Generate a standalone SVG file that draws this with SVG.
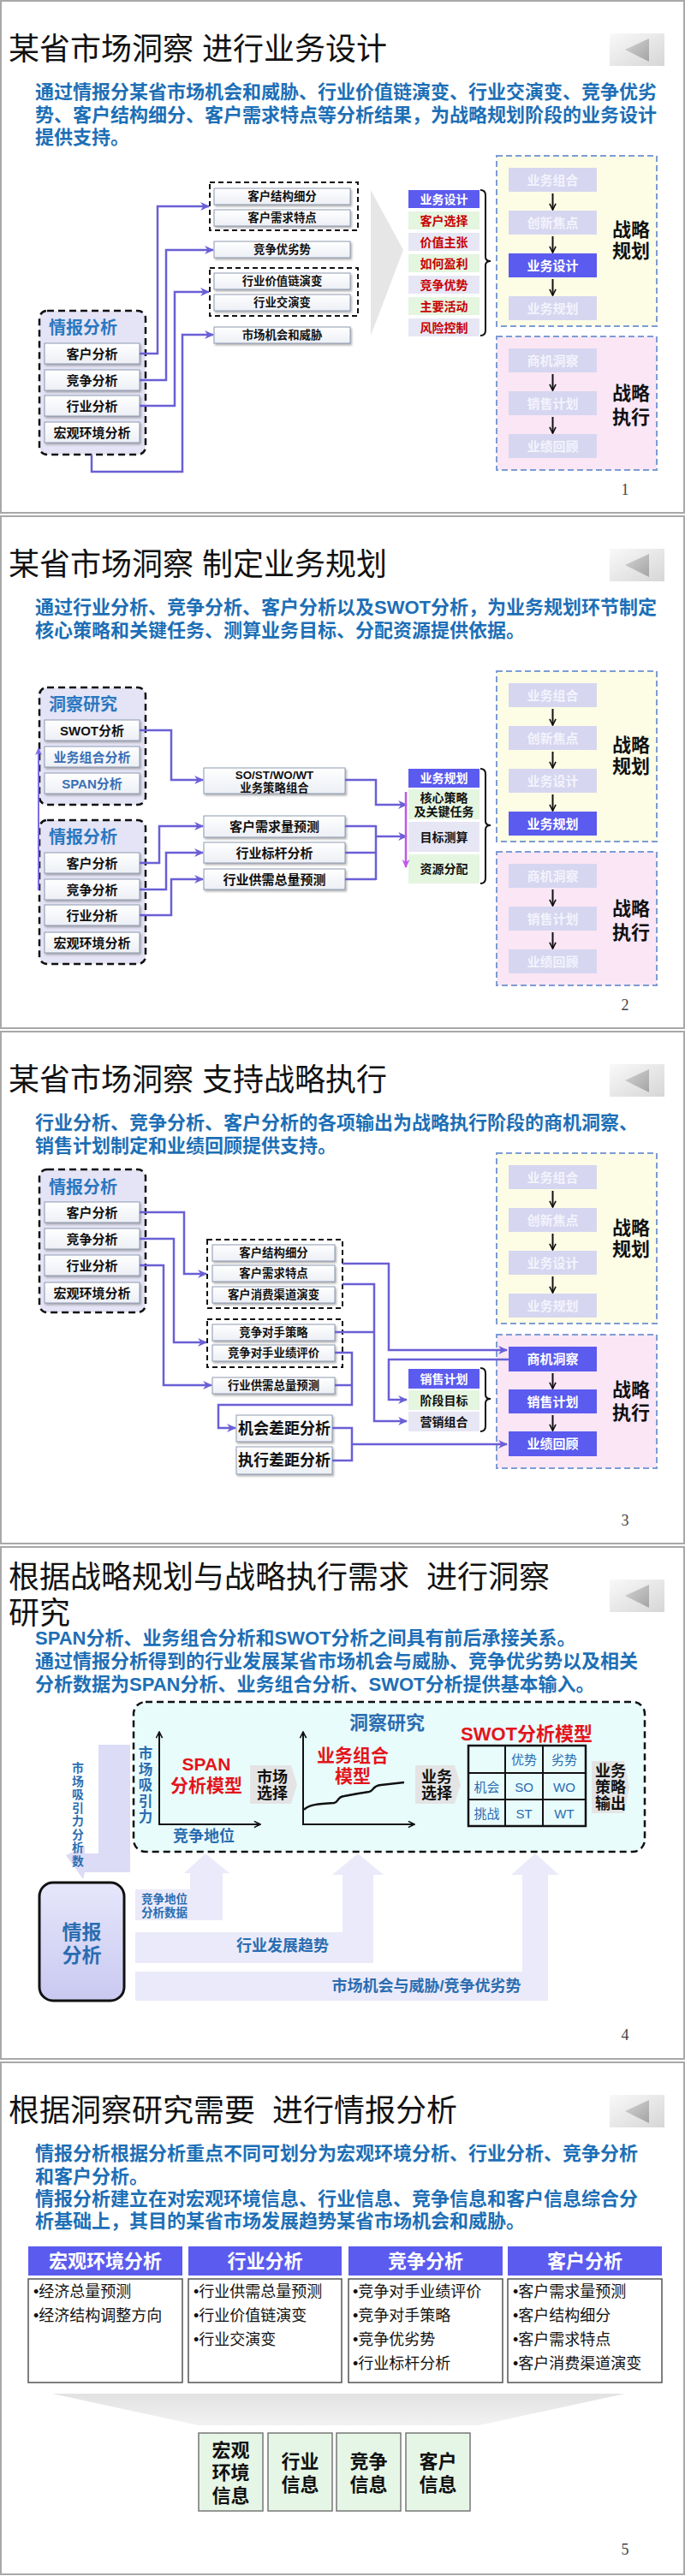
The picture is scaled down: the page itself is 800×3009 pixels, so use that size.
<svg xmlns="http://www.w3.org/2000/svg" xmlns:xlink="http://www.w3.org/1999/xlink" width="800" height="3009" viewBox="0 0 800 3009">
<style>
text{font-family:"Liberation Sans","Noto Sans CJK SC",sans-serif;dominant-baseline:central}
.frame{fill:#fff;stroke:#a8a8a8;stroke-width:2}
.ttl{font-size:36px;fill:#111}
.sub{font-size:22px;font-weight:700;fill:#1d6fb6}
.pg{font-family:"Liberation Serif",serif;font-size:18px;fill:#444;text-anchor:middle}
.cont{fill:#e4e4f6;stroke:#111;stroke-width:2.5;stroke-dasharray:8 5}
.grp{fill:none;stroke:#111;stroke-width:2;stroke-dasharray:6 4}
.ct{font-size:20px;font-weight:700;fill:#2a78c0}
.bx{fill:url(#gb);stroke:#8e9ab0;stroke-width:1;filter:url(#sh)}
.bt{font-size:15px;font-weight:700;fill:#111;text-anchor:middle}
.bb{font-size:15px;font-weight:700;fill:#3a6fb5;text-anchor:middle}
.st{font-size:13.4px;font-weight:700;fill:#111;text-anchor:middle}
.sl{font-size:18px;font-weight:700;fill:#111;text-anchor:middle}
.ca{fill:none;stroke:#6a5fd6;stroke-width:2.5;marker-end:url(#ap)}
.cn{fill:none;stroke:#6a5fd6;stroke-width:2.5}
.pp{fill:#fdfde6;stroke:#7d9cd4;stroke-width:2;stroke-dasharray:7 4}
.pe{fill:#fbe6f5;stroke:#7d9cd4;stroke-width:2;stroke-dasharray:7 4}
.fb{fill:#d6d6f0}
.ab{fill:#5b5bef}
.ft{font-size:15px;font-weight:700;fill:#f3f3fc;text-anchor:middle}
.at{font-size:15px;font-weight:700;fill:#fff;text-anchor:middle}
.zl{font-size:22px;font-weight:700;fill:#111;text-anchor:middle}
.ka{stroke:#111;stroke-width:2;fill:none;marker-end:url(#ak)}
.lh{fill:#5b5bef}
.lg{fill:#e4f5e0}
.ll{fill:#e6e6f4}
.lr{font-size:14px;font-weight:700;fill:#c80000;text-anchor:middle}
.lw{font-size:14px;font-weight:700;fill:#fff;text-anchor:middle}
.lk{font-size:14px;font-weight:700;fill:#111;text-anchor:middle}
.brace{fill:none;stroke:#111;stroke-width:2}
.bl{font-weight:700;fill:#2a6db0;text-anchor:middle}
.rd{font-weight:700;fill:#e3141b;text-anchor:middle}
.pent{fill:#e4e4e4}
.band{fill:#eaeafa}
.th{fill:#5b5bef}
.tht{font-size:22px;font-weight:700;fill:#fff;text-anchor:middle}
.tb{fill:#fff;stroke:#555;stroke-width:1.5}
.li{font-size:18px;fill:#111}
.ib{fill:#e6f6e6;stroke:#777;stroke-width:1.5}
.it{font-size:22px;font-weight:700;fill:#111;text-anchor:middle}
</style>
<defs>
<linearGradient id="gb" x1="0" y1="0" x2="0" y2="1"><stop offset="0" stop-color="#ffffff"/><stop offset="1" stop-color="#eceff5"/></linearGradient>
<linearGradient id="gback" x1="0" y1="0" x2="1" y2="1"><stop offset="0" stop-color="#f9f9f9"/><stop offset="1" stop-color="#d6d6d6"/></linearGradient>
<linearGradient id="gtri" x1="0" y1="0" x2="1" y2="1"><stop offset="0" stop-color="#d4d4d4"/><stop offset="1" stop-color="#a4a4a4"/></linearGradient>
<linearGradient id="gq" x1="0" y1="0" x2="0" y2="1"><stop offset="0" stop-color="#e6e6fb"/><stop offset="1" stop-color="#c9c9f1"/></linearGradient>
<linearGradient id="gf" x1="0" y1="0" x2="0" y2="1"><stop offset="0" stop-color="#e2e2e2"/><stop offset="1" stop-color="#f2f2f2"/></linearGradient>
<filter id="sh" x="-10%" y="-20%" width="130%" height="160%"><feDropShadow dx="1.5" dy="2" stdDeviation="1" flood-color="#777" flood-opacity="0.55"/></filter>
<marker id="ap" viewBox="0 0 10 10" refX="9" refY="5" markerWidth="11" markerHeight="11" markerUnits="userSpaceOnUse" orient="auto"><path d="M0,0.5 L10,5 L0,9.5 L3,5 z" fill="#6a5fd6"/></marker>
<marker id="ap2" viewBox="0 0 10 10" refX="9" refY="5" markerWidth="9" markerHeight="9" markerUnits="userSpaceOnUse" orient="auto"><path d="M0,0.5 L10,5 L0,9.5 L3,5 z" fill="#7b6ee0"/></marker>
<marker id="am" viewBox="0 0 10 10" refX="9" refY="5" markerWidth="10" markerHeight="10" markerUnits="userSpaceOnUse" orient="auto"><path d="M0,0.5 L10,5 L0,9.5 L3,5 z" fill="#c058e8"/></marker>
<marker id="ak" viewBox="0 0 10 10" refX="9" refY="5" markerWidth="9" markerHeight="9" markerUnits="userSpaceOnUse" orient="auto"><path d="M1,1 L9,5 L1,9" fill="none" stroke="#111" stroke-width="1.8"/></marker>
<g id="backbtn"><rect x="712" y="0" width="64" height="38" fill="url(#gback)"/><polygon points="730,19 758,6 758,33" fill="url(#gtri)"/></g>
</defs>

<g id="frames">
<rect class="frame" x="1" y="1" width="798" height="598"/>
<rect class="frame" x="1" y="603" width="798" height="598"/>
<rect class="frame" x="1" y="1205" width="798" height="598"/>
<rect class="frame" x="1" y="1807" width="798" height="598"/>
<rect class="frame" x="1" y="2409" width="798" height="598"/>
</g>

<!-- ================= SLIDE 1 ================= -->
<g id="slide1">
<text class="ttl" x="10" y="57">某省市场洞察 进行业务设计</text>
<use href="#backbtn" y="39"/>
<text class="sub"><tspan x="41" y="107">通过情报分某省市场机会和威胁、行业价值链演变、行业交演变、竞争优劣</tspan><tspan x="41" y="134">势、客户结构细分、客户需求特点等分析结果，为战略规划阶段的业务设计</tspan><tspan x="41" y="160">提供支持。</tspan></text>

<g id="s1-qbfx"><rect class="cont" x="46" y="363" width="124" height="168" rx="9"/><text class="ct" x="57" y="383">情报分析</text></g>
<g id="s1-khfx"><rect class="bx" x="52" y="401" width="111" height="24"/><text class="bt" x="107.5" y="413">客户分析</text></g>
<g id="s1-jzfx"><rect class="bx" x="52" y="432" width="111" height="24"/><text class="bt" x="107.5" y="444">竞争分析</text></g>
<g id="s1-hyfx"><rect class="bx" x="52" y="462" width="111" height="24"/><text class="bt" x="107.5" y="474">行业分析</text></g>
<g id="s1-hgfx"><rect class="bx" x="52" y="493" width="111" height="24"/><text class="bt" x="107.5" y="505">宏观环境分析</text></g>

<g id="s1-grp1"><rect class="grp" x="245" y="213" width="173" height="56"/></g>
<g id="s1-khjg"><rect class="bx" x="250" y="220" width="159" height="19"/><text class="st" x="329.5" y="229.5">客户结构细分</text></g>
<g id="s1-khxq"><rect class="bx" x="250" y="245" width="159" height="19"/><text class="st" x="329.5" y="254.5">客户需求特点</text></g>
<g id="s1-jzyl"><rect class="bx" x="250" y="282" width="159" height="19"/><text class="st" x="329.5" y="291.5">竞争优劣势</text></g>
<g id="s1-grp2"><rect class="grp" x="245" y="313" width="173" height="56"/></g>
<g id="s1-hyjz"><rect class="bx" x="250" y="319" width="159" height="19"/><text class="st" x="329.5" y="328.5">行业价值链演变</text></g>
<g id="s1-hyjy"><rect class="bx" x="250" y="344" width="159" height="19"/><text class="st" x="329.5" y="353.5">行业交演变</text></g>
<g id="s1-scjh"><rect class="bx" x="250" y="382" width="159" height="19"/><text class="st" x="329.5" y="391.5">市场机会和威胁</text></g>

<polygon points="433,222 471,292 433,392" fill="#e6e6e6"/>

<g id="s1-labels">
<rect class="lh" x="477" y="222" width="83" height="21"/><text class="lw" x="518.5" y="232.5">业务设计</text>
<rect class="lg" x="477" y="247" width="83" height="21"/><text class="lr" x="518.5" y="257.5">客户选择</text>
<rect class="ll" x="477" y="272" width="83" height="21"/><text class="lr" x="518.5" y="282.5">价值主张</text>
<rect class="lg" x="477" y="297" width="83" height="21"/><text class="lr" x="518.5" y="307.5">如何盈利</text>
<rect class="ll" x="477" y="322" width="83" height="21"/><text class="lr" x="518.5" y="332.5">竞争优势</text>
<rect class="lg" x="477" y="347" width="83" height="21"/><text class="lr" x="518.5" y="357.5">主要活动</text>
<rect class="ll" x="477" y="372" width="83" height="21"/><text class="lr" x="518.5" y="382.5">风险控制</text>
<path class="brace" d="M561,222 Q567,222 567,228 V300 Q567,305 573,305 Q567,305 567,310 V386 Q567,392 561,392"/>
</g>

<g id="s1-plan">
<rect class="pp" x="580" y="182" width="187" height="199"/>
<g id="s1-ywzh"><rect class="fb" x="594" y="196" width="103" height="28"/><text class="ft" x="645.5" y="210">业务组合</text></g>
<g id="s1-cxjd"><rect class="fb" x="594" y="246" width="103" height="28"/><text class="ft" x="645.5" y="260">创新焦点</text></g>
<g id="s1-ywsj"><rect class="ab" x="594" y="296" width="103" height="28"/><text class="at" x="645.5" y="310">业务设计</text></g>
<g id="s1-ywgh"><rect class="fb" x="594" y="346" width="103" height="28"/><text class="ft" x="645.5" y="360">业务规划</text></g>
<text class="zl"><tspan x="737" y="268">战略</tspan><tspan x="737" y="293">规划</tspan></text>
</g>
<g id="s1-exec">
<rect class="pe" x="580" y="393" width="187" height="156"/>
<g id="s1-sjdc"><rect class="fb" x="594" y="407" width="103" height="28"/><text class="ft" x="645.5" y="421">商机洞察</text></g>
<g id="s1-xsjh"><rect class="fb" x="594" y="457" width="103" height="28"/><text class="ft" x="645.5" y="471">销售计划</text></g>
<g id="s1-yjhg"><rect class="fb" x="594" y="507" width="103" height="28"/><text class="ft" x="645.5" y="521">业绩回顾</text></g>
<text class="zl"><tspan x="737" y="459">战略</tspan><tspan x="737" y="487">执行</tspan></text>
</g>

<g id="s1-connectors">
<path class="ca" d="M163,413 H184 V241 H244"/>
<path class="ca" d="M163,444 H194 V292 H249"/>
<path class="ca" d="M163,474 H204 V341 H244"/>
<path class="ca" d="M107,531 V551 H213 V391 H249"/>
<path class="ka" d="M645.5,226 V245"/>
<path class="ka" d="M645.5,276 V295"/>
<path class="ka" d="M645.5,326 V345"/>
<path class="ka" d="M645.5,437 V456"/>
<path class="ka" d="M645.5,487 V506"/>
</g>
<text class="pg" x="730" y="572">1</text>
</g>

<!-- ================= SLIDE 2 ================= -->
<g id="slide2">
<text class="ttl" x="10" y="659">某省市场洞察 制定业务规划</text>
<use href="#backbtn" y="641"/>
<text class="sub"><tspan x="41" y="709">通过行业分析、竞争分析、客户分析以及SWOT分析，为业务规划环节制定</tspan><tspan x="41" y="736">核心策略和关键任务、测算业务目标、分配资源提供依据。</tspan></text>

<g id="s2-dcyj"><rect class="cont" x="46" y="803" width="124" height="137" rx="9"/><text class="ct" x="57" y="823">洞察研究</text></g>
<g id="s2-swot"><rect class="bx" x="52" y="841" width="111" height="24"/><text class="bt" x="107.5" y="853">SWOT分析</text></g>
<g id="s2-ywzhfx"><rect class="bx" x="52" y="872" width="111" height="24"/><text class="bb" x="107.5" y="884">业务组合分析</text></g>
<g id="s2-span"><rect class="bx" x="52" y="903" width="111" height="24"/><text class="bb" x="107.5" y="915">SPAN分析</text></g>

<g id="s2-qbfx"><rect class="cont" x="46" y="958" width="124" height="168" rx="9"/><text class="ct" x="57" y="978">情报分析</text></g>
<g id="s2-khfx"><rect class="bx" x="52" y="996" width="111" height="24"/><text class="bt" x="107.5" y="1008">客户分析</text></g>
<g id="s2-jzfx"><rect class="bx" x="52" y="1027" width="111" height="24"/><text class="bt" x="107.5" y="1039">竞争分析</text></g>
<g id="s2-hyfx"><rect class="bx" x="52" y="1057" width="111" height="24"/><text class="bt" x="107.5" y="1069">行业分析</text></g>
<g id="s2-hgfx"><rect class="bx" x="52" y="1089" width="111" height="24"/><text class="bt" x="107.5" y="1101">宏观环境分析</text></g>

<g id="s2-sost"><rect class="bx" x="238" y="897" width="165" height="30"/><text class="st"><tspan x="320.5" y="904.5">SO/ST/WO/WT</tspan><tspan x="320.5" y="919.5">业务策略组合</tspan></text></g>
<g id="s2-khxql"><rect class="bx" x="238" y="953" width="165" height="25"/><text class="bt" x="320.5" y="965.5">客户需求量预测</text></g>
<g id="s2-hybg"><rect class="bx" x="238" y="984" width="165" height="24"/><text class="bt" x="320.5" y="996">行业标杆分析</text></g>
<g id="s2-hygx"><rect class="bx" x="238" y="1015" width="165" height="24"/><text class="bt" x="320.5" y="1027">行业供需总量预测</text></g>

<g id="s2-labels">
<rect class="lh" x="477" y="898" width="83" height="22"/><text class="lw" x="518.5" y="909">业务规划</text>
<rect class="lg" x="477" y="922" width="83" height="35"/><text class="lk"><tspan x="518.5" y="931.5">核心策略</tspan><tspan x="518.5" y="947.5">及关键任务</tspan></text>
<rect class="ll" x="477" y="960" width="83" height="35"/><text class="lk" x="518.5" y="977.5">目标测算</text>
<rect class="lg" x="477" y="998" width="83" height="34"/><text class="lk" x="518.5" y="1015">资源分配</text>
<path class="brace" d="M561,898 Q567,898 567,904 V959 Q567,964 573,964 Q567,964 567,969 V1026 Q567,1032 561,1032"/>
</g>

<g id="s2-plan">
<rect class="pp" x="580" y="784" width="187" height="199"/>
<g id="s2-ywzh"><rect class="fb" x="594" y="798" width="103" height="28"/><text class="ft" x="645.5" y="812">业务组合</text></g>
<g id="s2-cxjd"><rect class="fb" x="594" y="848" width="103" height="28"/><text class="ft" x="645.5" y="862">创新焦点</text></g>
<g id="s2-ywsj"><rect class="fb" x="594" y="898" width="103" height="28"/><text class="ft" x="645.5" y="912">业务设计</text></g>
<g id="s2-ywgh"><rect class="ab" x="594" y="948" width="103" height="28"/><text class="at" x="645.5" y="962">业务规划</text></g>
<text class="zl"><tspan x="737" y="870">战略</tspan><tspan x="737" y="895">规划</tspan></text>
</g>
<g id="s2-exec">
<rect class="pe" x="580" y="995" width="187" height="156"/>
<g id="s2-sjdc"><rect class="fb" x="594" y="1009" width="103" height="28"/><text class="ft" x="645.5" y="1023">商机洞察</text></g>
<g id="s2-xsjh"><rect class="fb" x="594" y="1059" width="103" height="28"/><text class="ft" x="645.5" y="1073">销售计划</text></g>
<g id="s2-yjhg"><rect class="fb" x="594" y="1109" width="103" height="28"/><text class="ft" x="645.5" y="1123">业绩回顾</text></g>
<text class="zl"><tspan x="737" y="1061">战略</tspan><tspan x="737" y="1089">执行</tspan></text>
</g>

<g id="s2-connectors">
<path fill="none" stroke="#7b6ee0" stroke-width="2" marker-end="url(#ap2)" d="M45,1040 V874"/>
<path class="ca" d="M163,853 H200 V911 H237"/>
<path class="ca" d="M163,1008 H186 V965 H237"/>
<path class="ca" d="M163,1039 H194 V996 H237"/>
<path class="ca" d="M163,1069 H200 V1027 H237"/>
<path class="ca" d="M403,911 H439 V940 H475"/>
<path class="cn" d="M403,965 H439 M403,996 H439 M403,1027 H439 M439,964 V1028"/>
<path class="ca" d="M439,977 H475"/>
<path fill="none" stroke="#c058e8" stroke-width="2.5" marker-end="url(#am)" d="M474,925 V1013"/>
<path class="ka" d="M645.5,828 V847"/>
<path class="ka" d="M645.5,878 V897"/>
<path class="ka" d="M645.5,928 V947"/>
<path class="ka" d="M645.5,1039 V1058"/>
<path class="ka" d="M645.5,1089 V1108"/>
</g>
<text class="pg" x="730" y="1174">2</text>
</g>

<!-- ================= SLIDE 3 ================= -->
<g id="slide3">
<text class="ttl" x="10" y="1261">某省市场洞察 支持战略执行</text>
<use href="#backbtn" y="1243"/>
<text class="sub"><tspan x="41" y="1311">行业分析、竞争分析、客户分析的各项输出为战略执行阶段的商机洞察、</tspan><tspan x="41" y="1338">销售计划制定和业绩回顾提供支持。</tspan></text>

<g id="s3-qbfx"><rect class="cont" x="46" y="1366" width="124" height="167" rx="9"/><text class="ct" x="57" y="1387">情报分析</text></g>
<g id="s3-khfx"><rect class="bx" x="52" y="1404" width="111" height="24"/><text class="bt" x="107.5" y="1416">客户分析</text></g>
<g id="s3-jzfx"><rect class="bx" x="52" y="1435" width="111" height="24"/><text class="bt" x="107.5" y="1447">竞争分析</text></g>
<g id="s3-hyfx"><rect class="bx" x="52" y="1466" width="111" height="24"/><text class="bt" x="107.5" y="1478">行业分析</text></g>
<g id="s3-hgfx"><rect class="bx" x="52" y="1498" width="111" height="24"/><text class="bt" x="107.5" y="1510">宏观环境分析</text></g>

<g id="s3-grp1"><rect class="grp" x="242" y="1448" width="158" height="80"/></g>
<g id="s3-khjg"><rect class="bx" x="248" y="1454" width="143" height="19"/><text class="st" x="319.5" y="1463.5">客户结构细分</text></g>
<g id="s3-khxq"><rect class="bx" x="248" y="1478" width="143" height="19"/><text class="st" x="319.5" y="1487.5">客户需求特点</text></g>
<g id="s3-khqd"><rect class="bx" x="248" y="1503" width="143" height="19"/><text class="st" x="319.5" y="1512.5">客户消费渠道演变</text></g>
<g id="s3-grp2"><rect class="grp" x="242" y="1541" width="158" height="56"/></g>
<g id="s3-jzcl"><rect class="bx" x="248" y="1547" width="143" height="19"/><text class="st" x="319.5" y="1556.5">竞争对手策略</text></g>
<g id="s3-jzpj"><rect class="bx" x="248" y="1571" width="143" height="19"/><text class="st" x="319.5" y="1580.5">竞争对手业绩评价</text></g>
<g id="s3-hygx"><rect class="bx" x="248" y="1609" width="143" height="19"/><text class="st" x="319.5" y="1618.5">行业供需总量预测</text></g>
<g id="s3-jhcj"><rect class="bx" x="276" y="1653" width="112" height="31"/><text class="sl" x="332" y="1668.5">机会差距分析</text></g>
<g id="s3-zxcj"><rect class="bx" x="276" y="1690" width="112" height="32"/><text class="sl" x="332" y="1706">执行差距分析</text></g>

<g id="s3-labels">
<rect class="lh" x="477" y="1599" width="83" height="23"/><text class="lw" x="518.5" y="1610.5">销售计划</text>
<rect class="lg" x="477" y="1624" width="83" height="23"/><text class="lk" x="518.5" y="1635.5">阶段目标</text>
<rect class="ll" x="477" y="1649" width="83" height="23"/><text class="lk" x="518.5" y="1660.5">营销组合</text>
<path class="brace" d="M561,1598 Q567,1598 567,1604 V1629 Q567,1634 573,1634 Q567,1634 567,1639 V1666 Q567,1672 561,1672"/>
</g>

<g id="s3-plan">
<rect class="pp" x="580" y="1347" width="187" height="199"/>
<g id="s3-ywzh"><rect class="fb" x="594" y="1361" width="103" height="28"/><text class="ft" x="645.5" y="1375">业务组合</text></g>
<g id="s3-cxjd"><rect class="fb" x="594" y="1411" width="103" height="28"/><text class="ft" x="645.5" y="1425">创新焦点</text></g>
<g id="s3-ywsj"><rect class="fb" x="594" y="1461" width="103" height="28"/><text class="ft" x="645.5" y="1475">业务设计</text></g>
<g id="s3-ywgh"><rect class="fb" x="594" y="1511" width="103" height="28"/><text class="ft" x="645.5" y="1525">业务规划</text></g>
<text class="zl"><tspan x="737" y="1434">战略</tspan><tspan x="737" y="1459">规划</tspan></text>
</g>
<g id="s3-exec">
<rect class="pe" x="580" y="1559" width="187" height="156"/>
<g id="s3-sjdc"><rect class="ab" x="594" y="1573" width="103" height="29"/><text class="at" x="645.5" y="1587.5">商机洞察</text></g>
<g id="s3-xsjh"><rect class="ab" x="594" y="1623" width="103" height="28"/><text class="at" x="645.5" y="1637">销售计划</text></g>
<g id="s3-yjhg"><rect class="ab" x="594" y="1672" width="103" height="29"/><text class="at" x="645.5" y="1686.5">业绩回顾</text></g>
<text class="zl"><tspan x="737" y="1623">战略</tspan><tspan x="737" y="1650">执行</tspan></text>
</g>

<g id="s3-connectors">
<path class="ca" d="M163,1416 H215 V1488 H241"/>
<path class="ca" d="M163,1447 H203 V1568 H241"/>
<path class="ca" d="M163,1478 H191 V1618 H247"/>
<path class="ca" d="M400,1476 H454 V1577 H592"/>
<path class="ca" d="M594,1588 H454 V1635 H475"/>
<path class="ca" d="M400,1500 H437 V1660 H475"/>
<path class="cn" d="M391,1556 H437"/>
<path class="ca" d="M391,1580 H411 V1641 H255 V1668 H275"/>
<path class="cn" d="M391,1618 H411"/>
<path class="cn" d="M388,1668 H411 V1706 H388"/>
<path class="ca" d="M411,1687 H592"/>
<path class="ka" d="M645.5,1391 V1410"/>
<path class="ka" d="M645.5,1441 V1460"/>
<path class="ka" d="M645.5,1491 V1510"/>
<path class="ka" d="M645.5,1604 V1622"/>
<path class="ka" d="M645.5,1653 V1671"/>
</g>
<text class="pg" x="730" y="1776">3</text>
</g>

<!-- ================= SLIDE 4 ================= -->
<g id="slide4">
<text class="ttl" xml:space="preserve"><tspan x="10" y="1842">根据战略规划与战略执行需求  进行洞察</tspan><tspan x="10" y="1884">研究</tspan></text>
<use href="#backbtn" y="1845"/>
<text class="sub"><tspan x="41" y="1913">SPAN分析、业务组合分析和SWOT分析之间具有前后承接关系。</tspan><tspan x="41" y="1940">通过情报分析得到的行业发展某省市场机会与威胁、竞争优劣势以及相关</tspan><tspan x="41" y="1967">分析数据为SPAN分析、业务组合分析、SWOT分析提供基本输入。</tspan></text>

<g id="s4-arrows">
<path class="band" d="M158,2207 H222 V2188 H215 L240,2165 L268,2188 H260 V2243 H158 Z"/>
<path class="band" d="M158,2257 H400 V2190 H388 L418,2165 L448,2190 H436 V2293 H158 Z"/>
<path class="band" d="M158,2303 H610 V2190 H597 L625,2165 L653,2190 H640 V2337 H158 Z"/>
<path fill="#dcdcf6" d="M115,2038 H152 V2187 H99 L97,2195 L77,2167 L99,2157 L99,2165 H115 Z"/>
</g>
<text class="bl" font-size="13.5"><tspan x="192" y="2218">竞争地位</tspan><tspan x="192" y="2234">分析数据</tspan></text>
<text class="bl" font-size="18" x="330" y="2273">行业发展趋势</text>
<text class="bl" font-size="18" x="498" y="2320">市场机会与威胁/竞争优劣势</text>
<text class="bl" font-size="13.8"><tspan x="91" y="2065">市</tspan><tspan x="91" y="2080.5">场</tspan><tspan x="91" y="2096">吸</tspan><tspan x="91" y="2111.5">引</tspan><tspan x="91" y="2127">力</tspan><tspan x="91" y="2142.5">分</tspan><tspan x="91" y="2158">析</tspan><tspan x="91" y="2173.5">数</tspan></text>

<g id="s4-dcyj">
<rect x="156" y="1988" width="597" height="175" rx="14" fill="#e9fcfc" stroke="#111" stroke-width="2.5" stroke-dasharray="8 5"/>
<text class="bl" font-size="22" x="452" y="2012">洞察研究</text>
</g>
<g id="s4-span">
<path class="ka" d="M186,2131 V2023"/>
<path class="ka" d="M185,2131 H304"/>
<text class="bl" font-size="16.5"><tspan x="170" y="2048">市</tspan><tspan x="170" y="2066.5">场</tspan><tspan x="170" y="2085">吸</tspan><tspan x="170" y="2103.5">引</tspan><tspan x="170" y="2122">力</tspan></text>
<text class="rd" font-size="21"><tspan x="241" y="2060">SPAN</tspan><tspan x="241" y="2085">分析模型</tspan></text>
<text class="bl" font-size="18" x="238" y="2145">竞争地位</text>
</g>
<g id="s4-scxz">
<polygon class="pent" points="292,2062 340,2062 347,2084.5 340,2107 292,2107"/>
<text class="sl" font-size="16"><tspan x="318" y="2076">市场</tspan><tspan x="318" y="2095">选择</tspan></text>
</g>
<g id="s4-ywzh">
<path class="ka" d="M354,2131 V2023"/>
<path class="ka" d="M353,2131 H484"/>
<path fill="none" stroke="#111" stroke-width="2.5" d="M355,2114 C360,2108 372,2107 390,2106 C396,2105 393,2099 402,2098 C412,2096 424,2094 431,2093 C437,2092 434,2086 445,2085 L472,2082"/>
<text class="rd" font-size="21"><tspan x="412" y="2050">业务组合</tspan><tspan x="412" y="2074">模型</tspan></text>
</g>
<g id="s4-ywxz">
<polygon class="pent" points="485,2062 531,2062 538,2084.5 531,2107 485,2107"/>
<text class="sl" font-size="16"><tspan x="510" y="2076">业务</tspan><tspan x="510" y="2095">选择</tspan></text>
</g>
<g id="s4-swot">
<text class="rd" font-size="22" x="615" y="2025">SWOT分析模型</text>
<rect x="547" y="2039" width="137" height="94" fill="none" stroke="#111" stroke-width="2.5"/>
<path d="M590,2039 V2133 M634,2039 V2133 M547,2071 H684 M547,2102 H684" stroke="#111" stroke-width="2" fill="none"/>
<g font-size="15" fill="#2a6db0" text-anchor="middle">
<text x="612" y="2055">优势</text><text x="659" y="2055">劣势</text>
<text x="568.5" y="2087">机会</text><text x="612" y="2087">SO</text><text x="659" y="2087">WO</text>
<text x="568.5" y="2118">挑战</text><text x="612" y="2118">ST</text><text x="659" y="2118">WT</text>
</g>
</g>
<g id="s4-ywcl">
<polygon class="pent" points="691,2057 729,2057 735,2087.5 729,2118 691,2118"/>
<text class="sl" font-size="16"><tspan x="713" y="2069">业务</tspan><tspan x="713" y="2088">策略</tspan><tspan x="713" y="2107">输出</tspan></text>
</g>
<g id="s4-qbfx">
<rect x="46" y="2199" width="99" height="138" rx="16" fill="url(#gq)" stroke="#111" stroke-width="3"/>
<text class="bl" font-size="23"><tspan x="95.5" y="2257">情报</tspan><tspan x="95.5" y="2284">分析</tspan></text>
</g>
<text class="pg" x="730" y="2377">4</text>
</g>

<!-- ================= SLIDE 5 ================= -->
<g id="slide5">
<text class="ttl" x="10" y="2465" xml:space="preserve">根据洞察研究需要  进行情报分析</text>
<use href="#backbtn" y="2447"/>
<text class="sub"><tspan x="41" y="2515">情报分析根据分析重点不同可划分为宏观环境分析、行业分析、竞争分析</tspan><tspan x="41" y="2542">和客户分析。</tspan><tspan x="41" y="2568">情报分析建立在对宏观环境信息、行业信息、竞争信息和客户信息综合分</tspan><tspan x="41" y="2594">析基础上，其目的某省市场发展趋势某省市场机会和威胁。</tspan></text>

<g id="s5-col1">
<rect class="th" x="33" y="2624" width="180" height="34"/><text class="tht" x="123" y="2641">宏观环境分析</text>
<rect class="tb" x="33" y="2662" width="180" height="121"/>
<text class="li"><tspan x="39" y="2677">•经济总量预测</tspan><tspan x="39" y="2705">•经济结构调整方向</tspan></text>
</g>
<g id="s5-col2">
<rect class="th" x="220" y="2624" width="179" height="34"/><text class="tht" x="309.5" y="2641">行业分析</text>
<rect class="tb" x="220" y="2662" width="179" height="121"/>
<text class="li"><tspan x="226" y="2677">•行业供需总量预测</tspan><tspan x="226" y="2705">•行业价值链演变</tspan><tspan x="226" y="2733">•行业交演变</tspan></text>
</g>
<g id="s5-col3">
<rect class="th" x="407" y="2624" width="180" height="34"/><text class="tht" x="497" y="2641">竞争分析</text>
<rect class="tb" x="407" y="2662" width="180" height="121"/>
<text class="li"><tspan x="412" y="2677">•竞争对手业绩评价</tspan><tspan x="412" y="2705">•竞争对手策略</tspan><tspan x="412" y="2733">•竞争优劣势</tspan><tspan x="412" y="2761">•行业标杆分析</tspan></text>
</g>
<g id="s5-col4">
<rect class="th" x="593" y="2624" width="180" height="34"/><text class="tht" x="683" y="2641">客户分析</text>
<rect class="tb" x="593" y="2662" width="180" height="121"/>
<text class="li"><tspan x="599" y="2677">•客户需求量预测</tspan><tspan x="599" y="2705">•客户结构细分</tspan><tspan x="599" y="2733">•客户需求特点</tspan><tspan x="599" y="2761">•客户消费渠道演变</tspan></text>
</g>
<polygon points="61,2796 730,2796 559,2833 232,2833" fill="url(#gf)"/>
<g id="s5-hgxx"><rect class="ib" x="232" y="2842" width="75" height="91"/><text class="it"><tspan x="269.5" y="2862">宏观</tspan><tspan x="269.5" y="2888">环境</tspan><tspan x="269.5" y="2915">信息</tspan></text></g>
<g id="s5-hyxx"><rect class="ib" x="313" y="2842" width="75" height="91"/><text class="it"><tspan x="350.5" y="2875">行业</tspan><tspan x="350.5" y="2902">信息</tspan></text></g>
<g id="s5-jzxx"><rect class="ib" x="393" y="2842" width="75" height="91"/><text class="it"><tspan x="430.5" y="2875">竞争</tspan><tspan x="430.5" y="2902">信息</tspan></text></g>
<g id="s5-khxx"><rect class="ib" x="474" y="2842" width="75" height="91"/><text class="it"><tspan x="511.5" y="2875">客户</tspan><tspan x="511.5" y="2902">信息</tspan></text></g>
<text class="pg" x="730" y="2978">5</text>
</g>
</svg>
